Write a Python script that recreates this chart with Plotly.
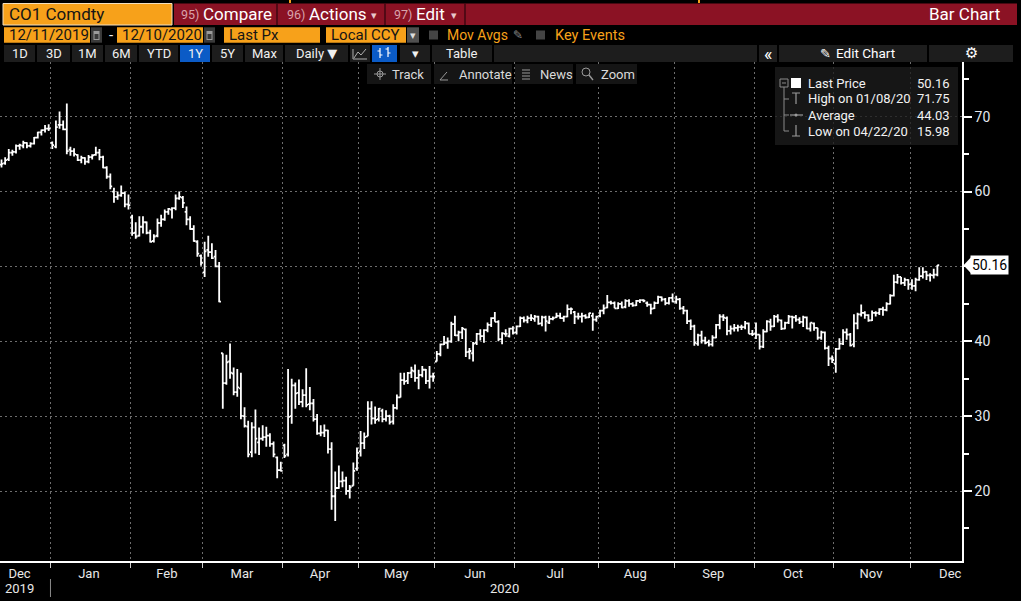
import pandas as pd
import plotly.graph_objects as go

# CO1 Comdty daily bars, 12/11/2019 - 12/10/2020
holidays = ["2019-12-25", "2020-01-01", "2020-04-10"]
days = pd.bdate_range("2019-12-11", "2020-12-10")
days = days[~days.isin(pd.to_datetime(holidays))]

opens = [
    63.6, 63.8, 64.3, 65.2, 65.3, 66.1, 66.1, 66.5, 66.1, 66.4, 67.2, 67.9, 68.2, 68.4,
    66.5, 66.0, 68.9, 68.9, 68.3, 65.6, 65.4, 64.9, 64.2, 64.5, 64.0, 64.6, 64.9, 65.2, 64.6, 63.2, 62.0, 60.0, 59.3, 59.5, 59.8, 58.3,
    56.6, 54.5, 54.1, 55.3, 55.9, 54.5, 53.4, 54.1, 55.8, 56.3, 57.3, 57.6, 57.8, 59.1, 59.2, 57.3, 56.3, 55.0, 53.3, 51.4,
    49.2, 52.2, 51.9, 51.3, 50.0, 38.4, 34.4, 37.3, 35.7, 33.2, 33.7, 30.0, 28.6, 25.2, 28.5, 26.5, 27.0, 27.2, 27.4, 26.3, 24.5, 22.8,
    26.1, 24.9, 30.0, 34.1, 33.1, 31.9, 32.8, 31.6, 31.7, 29.6, 27.7, 27.8, 28.1, 25.6, 19.3, 20.4, 21.3, 21.4, 20.0, 20.7, 23.0,
    25.3, 26.4, 27.3, 31.0, 29.7, 29.6, 30.7, 29.6, 30.0, 29.3, 31.1, 32.5, 34.8, 34.7, 35.8, 36.0, 35.1, 35.5, 36.2, 34.7, 35.3,
    37.3, 38.3, 39.6, 39.8, 40.0, 42.3, 40.8, 41.2, 41.6, 38.6, 38.4, 39.8, 41.0, 40.7, 41.5, 42.2, 43.1, 42.6, 40.3, 41.0, 40.7, 41.7,
    41.2, 42.0, 43.1, 42.8, 43.1, 43.0, 43.3, 42.4, 43.2, 42.5, 43.0, 43.2, 43.4, 43.1, 43.3, 44.3, 43.9, 43.3, 43.3, 43.4, 43.2, 43.4, 42.9,
    43.4, 44.1, 44.5, 45.2, 45.1, 44.4, 45.0, 44.6, 45.4, 45.0, 44.8, 45.4, 45.5, 45.1, 44.9, 44.4, 45.1, 45.9, 45.6, 45.1, 45.8,
    45.3, 45.6, 44.4, 44.1, 42.7, 42.0, 39.7, 40.8, 40.1, 39.9, 39.6, 40.5, 42.2, 43.3, 43.1, 41.4, 41.7, 41.8, 41.9, 41.9, 42.4, 41.0,
    41.0, 40.9, 39.3, 41.3, 42.6, 42.0, 43.3, 42.8, 41.7, 42.5, 43.3, 43.2, 42.9, 42.6, 43.2, 41.7, 42.4, 41.8, 40.5, 41.2, 39.1, 37.7,
    37.0, 39.0, 39.7, 41.2, 40.9, 39.6, 42.4, 43.6, 43.8, 43.5, 42.8, 43.8, 43.8, 44.3, 44.2, 45.0, 46.1, 47.9, 48.6, 47.8, 48.2,
    47.6, 47.4, 48.2, 48.7, 49.3, 48.8, 48.8, 48.9,
]
highs = [
    64.3, 64.6, 65.7, 65.6, 66.3, 66.4, 66.8, 66.6, 66.6, 67.3, 68.0, 68.3, 68.9, 69.0,
    66.7, 69.5, 70.7, 69.5, 71.75, 66.0, 65.8, 65.0, 64.8, 64.6, 64.9, 65.0, 66.0, 65.7, 64.8, 63.4, 62.4, 60.5, 60.0, 60.8, 60.0, 59.6,
    56.9, 55.9, 56.7, 56.7, 56.0, 54.9, 54.3, 56.4, 56.9, 57.6, 57.8, 57.9, 59.6, 60.0, 59.4, 58.0, 56.7, 55.5, 53.5, 51.6,
    53.3, 54.1, 53.1, 52.2, 50.6, 38.4, 38.2, 39.7, 36.5, 36.3, 35.8, 31.2, 29.4, 29.2, 30.9, 28.5, 28.8, 28.6, 27.7, 26.6, 24.6, 23.9,
    26.3, 36.3, 35.0, 34.5, 34.9, 33.6, 36.4, 33.9, 32.3, 30.3, 28.8, 28.9, 28.2, 26.5, 22.6, 23.4, 22.6, 21.9, 20.8, 23.8, 25.8,
    28.0, 27.8, 32.0, 32.0, 31.3, 31.1, 31.0, 30.8, 30.2, 31.6, 32.9, 35.8, 35.8, 35.9, 36.6, 36.9, 36.2, 36.7, 36.3, 36.7, 35.8,
    38.7, 39.7, 40.7, 40.5, 42.6, 43.4, 41.4, 41.9, 41.7, 39.1, 39.9, 41.1, 41.6, 41.6, 42.5, 43.2, 43.9, 42.8, 41.2, 41.6, 41.8, 42.0,
    42.1, 43.3, 43.3, 43.4, 43.6, 43.5, 43.4, 43.4, 43.4, 43.4, 43.3, 43.8, 43.8, 43.4, 44.9, 44.5, 44.05, 43.8, 43.8, 43.6, 43.8, 43.8, 43.4,
    44.2, 44.9, 46.2, 45.4, 45.3, 45.2, 45.3, 45.6, 45.6, 45.2, 45.5, 45.6, 45.6, 45.3, 45.0, 45.3, 46.1, 46.0, 45.8, 45.9, 46.4,
    46.1, 45.8, 44.7, 44.2, 42.9, 42.2, 41.0, 41.4, 40.6, 40.2, 40.8, 42.3, 43.6, 43.6, 43.3, 42.1, 42.3, 42.2, 42.2, 42.7, 42.5, 41.5,
    42.5, 40.9, 41.6, 42.8, 43.0, 43.5, 43.6, 42.9, 42.6, 43.5, 43.4, 43.5, 43.2, 43.4, 43.3, 42.5, 42.5, 41.8, 41.4, 41.3, 39.4, 38.1,
    39.1, 40.4, 41.6, 41.7, 41.1, 43.6, 43.8, 44.9, 44.0, 43.6, 44.1, 44.0, 44.4, 44.6, 45.2, 46.3, 48.9, 49.0, 48.6, 48.5, 48.3,
    48.3, 48.5, 49.9, 49.9, 49.4, 49.1, 49.7, 50.2,
]
lows = [
    63.2, 63.6, 64.1, 64.8, 65.1, 65.6, 65.8, 65.8, 65.9, 66.3, 67.1, 67.5, 67.9, 68.1,
    65.7, 65.8, 68.4, 68.2, 65.0, 64.8, 64.7, 64.1, 63.8, 63.6, 63.8, 64.3, 64.8, 64.2, 63.1, 61.7, 60.3, 58.5, 58.9, 59.3, 57.9, 57.6,
    54.1, 53.7, 54.0, 54.4, 54.3, 53.2, 53.2, 53.9, 55.3, 56.1, 56.9, 56.4, 57.5, 58.9, 57.8, 55.5, 54.9, 53.3, 51.3, 50.1,
    48.6, 51.3, 51.0, 49.9, 45.2, 31.0, 34.2, 35.0, 32.8, 32.6, 29.6, 28.5, 24.5, 24.5, 25.0, 24.8, 26.7, 25.9, 25.9, 24.5, 21.7, 22.6,
    24.4, 24.6, 29.0, 31.0, 31.5, 31.2, 31.2, 30.8, 29.3, 27.5, 27.3, 27.2, 25.0, 17.5, 15.98, 20.3, 20.5, 19.5, 19.0, 20.7, 22.7,
    24.6, 25.6, 27.3, 28.9, 29.0, 29.3, 29.2, 29.3, 28.9, 28.9, 30.9, 32.5, 34.2, 34.3, 35.1, 34.6, 33.6, 35.2, 34.3, 33.7, 34.6,
    37.3, 38.0, 39.5, 39.0, 39.8, 40.7, 40.0, 40.3, 37.9, 37.6, 37.3, 39.5, 40.1, 39.8, 41.2, 41.9, 42.6, 40.0, 39.6, 40.6, 40.5, 40.9,
    40.9, 41.9, 42.5, 42.4, 42.7, 42.6, 42.2, 42.0, 41.3, 42.3, 42.8, 43.1, 43.0, 42.6, 43.2, 43.6, 42.3, 42.9, 42.5, 43.0, 43.1, 41.4, 42.6,
    43.2, 43.6, 44.4, 44.9, 44.4, 44.3, 44.4, 44.4, 44.6, 44.6, 44.7, 45.1, 45.2, 44.6, 43.6, 44.3, 45.0, 45.3, 44.8, 44.9, 45.2,
    45.0, 44.2, 43.6, 42.3, 41.5, 39.4, 39.4, 39.7, 39.6, 39.3, 39.3, 40.4, 41.6, 42.7, 40.8, 40.9, 41.3, 41.3, 41.5, 41.6, 41.0, 40.7,
    40.3, 38.9, 39.1, 41.2, 41.4, 41.9, 42.5, 41.5, 41.6, 42.3, 41.7, 42.6, 42.3, 41.9, 41.6, 41.3, 41.4, 40.2, 40.2, 38.9, 36.7, 37.1,
    35.8, 38.9, 39.5, 40.2, 39.3, 39.2, 41.6, 43.3, 43.0, 42.6, 42.7, 43.3, 43.5, 43.4, 44.0, 44.9, 46.0, 47.7, 47.6, 47.4, 46.9,
    46.9, 46.7, 48.1, 48.4, 48.2, 48.0, 48.4, 48.7,
]
closes = [
    63.7, 64.2, 65.2, 65.3, 66.1, 66.2, 66.5, 66.1, 66.4, 67.2, 67.9, 68.2, 68.4, 68.4,
    66.2, 68.6, 68.9, 68.3, 65.4, 65.4, 65.0, 64.2, 64.5, 64.0, 64.6, 64.85, 65.2, 64.6, 63.2, 62.0, 60.7, 59.3, 59.5, 59.8, 58.3, 58.2,
    54.45, 54.0, 55.3, 55.9, 54.5, 53.3, 54.0, 55.8, 56.3, 57.3, 57.7, 57.8, 59.1, 59.3, 58.5, 56.3, 55.0, 53.4, 51.7, 50.5,
    52.0, 51.9, 51.1, 50.0, 45.3, 34.4, 37.2, 35.8, 33.2, 33.85, 30.05, 28.7, 24.9, 28.5, 27.0, 27.0, 27.2, 27.4, 26.3, 24.9, 22.8, 22.7,
    24.7, 29.9, 34.1, 33.05, 31.9, 32.8, 31.5, 31.7, 29.6, 27.7, 27.8, 28.1, 25.6, 19.3, 20.4, 21.3, 21.4, 20.0, 20.5, 22.7, 25.1,
    26.4, 27.2, 31.0, 29.7, 29.5, 31.0, 29.6, 30.0, 29.2, 31.1, 32.5, 34.8, 34.65, 35.75, 36.1, 35.1, 35.5, 36.2, 34.7, 35.3, 35.3,
    38.3, 39.6, 39.8, 40.0, 42.3, 40.8, 41.2, 41.7, 38.55, 38.7, 39.7, 41.0, 40.7, 41.5, 42.2, 43.1, 42.6, 40.3, 41.05, 41.0, 41.7, 41.15,
    42.0, 43.1, 42.8, 43.1, 43.1, 43.3, 42.35, 43.2, 42.7, 43.0, 43.1, 43.4, 43.1, 43.3, 44.3, 44.3, 43.3, 43.3, 43.4, 43.2, 43.75, 42.9, 43.3,
    44.1, 44.4, 45.2, 45.1, 44.4, 45.0, 44.5, 45.4, 45.0, 44.8, 45.4, 45.5, 45.4, 44.9, 44.35, 45.1, 45.9, 45.6, 45.1, 45.8, 45.3,
    45.6, 44.4, 44.1, 42.7, 42.0, 39.8, 40.8, 40.1, 39.8, 39.6, 40.5, 42.2, 43.3, 43.15, 41.4, 41.7, 41.8, 41.9, 41.9, 42.4, 41.0, 40.95,
    40.9, 39.3, 41.3, 42.65, 42.0, 43.3, 42.85, 41.7, 42.45, 43.3, 43.2, 42.9, 42.6, 43.2, 41.7, 42.5, 41.8, 40.5, 41.2, 39.1, 37.7, 37.5,
    38.97, 39.7, 41.2, 40.9, 39.45, 42.4, 43.6, 43.8, 43.5, 42.8, 43.8, 43.75, 44.3, 44.2, 45.0, 46.1, 47.9, 48.6, 47.8, 48.2, 47.6,
    47.4, 48.25, 48.7, 49.25, 48.8, 48.85, 48.9, 50.16,
]

month_ticks = ["2019-12-18 11:00", "2020-01-16 14:00", "2020-02-17 02:00", "2020-03-16 19:00",
               "2020-04-16 07:00", "2020-05-15 07:00", "2020-06-16 01:00", "2020-07-16 03:00",
               "2020-08-17 05:00", "2020-09-15 17:00", "2020-10-15 17:00", "2020-11-16 05:00",
               "2020-12-16 01:00"]
month_names = ["Dec", "Jan", "Feb", "Mar", "Apr", "May", "Jun", "Jul", "Aug", "Sep", "Oct", "Nov", "Dec"]

legend_rows = [("Last Price", "50.16"), ("High on 01/08/20", "71.75"),
               ("Average", "44.03"), ("Low on 04/22/20", "15.98")]

dates = days + pd.Timedelta(hours=12)  # centre each bar in its day slot
s = pd.Series(days)
month_starts = [d.strftime("%Y-%m-%d") for d in s[s.dt.month != s.shift().dt.month].iloc[1:]]

UI = "Roboto, DejaVu Sans, sans-serif"
ORANGE = "#f7a11a"
RED = "#8b1224"
BTN = "#1d1d1d"
GRID = "#6e6e6e"
YMIN, YMAX = 10.65, 77.31

# page pixels -> paper coords (plot area is x 0..962, y 62..561)
PX0, PX1, PY0, PY1 = 0, 962, 62, 561


def px(x):
    return (x - PX0) / (PX1 - PX0)


def py(y):
    return (PY1 - y) / (PY1 - PY0)


shapes, notes = [], []


def box(x0, y0, x1, y1, fill, line=None):
    shapes.append(dict(type="rect", xref="paper", yref="paper", layer="above",
                       x0=px(x0), x1=px(x1), y0=py(y1), y1=py(y0), fillcolor=fill,
                       line=dict(width=1 if line else 0, color=line or fill)))


def path(parts, color, width=1.2):
    d = " ".join("M " + " L ".join(f"{px(x):.5f},{py(y):.5f}" for x, y in pts) for pts in parts)
    shapes.append(dict(type="path", xref="paper", yref="paper", layer="above", path=d,
                       line=dict(color=color, width=width)))


def label(x, y, text, color="#eeeeee", size=13, anchor="left"):
    notes.append(dict(xref="paper", yref="paper", x=px(x), y=py(y), text=text, showarrow=False,
                      xanchor=anchor, yanchor="middle", font=dict(color=color, size=size, family=UI)))


# row 1: security + red menu bar
box(289, 0, 291, 3, ORANGE)
box(698, 0, 700, 3, ORANGE)
box(3, 3.5, 172, 25, ORANGE, line="#f3dfbf")
label(7, 14.5, "CO1 Comdty", "#151515", 17)
box(174, 3.5, 1017, 25, RED)
for xs in (277, 385, 465):
    box(xs - 0.7, 3.5, xs + 0.7, 25, "#3a0610")
for x, num, word, arrow in [(179, "95)", "Compare", None), (285, "96)", "Actions", 374),
                            (392, "97)", "Edit", 454)]:
    label(x, 14.5, num, "#d9a3ab", 12.5)
    label(x + 22, 14.5, word, "white", 17)
    if arrow:
        label(arrow, 15, "▾", "#e8c8cc", 11, "center")
label(1002, 14.5, "Bar Chart", "white", 17, "right")

# row 2: dates, field, currency, check boxes
for x0, x1, txt in [(4, 90, "12/11/2019"), (117, 203, "12/10/2020"), (224, 320, "Last Px"),
                    (326, 406, "Local CCY")]:
    box(x0, 27.3, x1, 42.7, ORANGE)
    label(x0 + 3, 35, txt, "#151515", 15)
for x0 in (91, 204):
    box(x0, 27.3, x0 + 11, 42.7, "#3a3a3a")
    box(x0 + 2.5, 31, x0 + 8.5, 40, "#9a9a9a")
    box(x0 + 3.5, 34, x0 + 7.5, 39, "#3a3a3a")
label(111, 35, "-", "#eeeeee", 15, "center")
box(407, 27.3, 419, 42.7, "#505050")
label(413, 36, "▾", "#dddddd", 11, "center")
box(429, 30.5, 438, 39.5, "#444444")
label(445, 35, "Mov Avgs", ORANGE, 14)
label(518, 35, "✎", "#8a8a8a", 12, "center")
box(536, 30.5, 545, 39.5, "#444444")
label(553, 35, "Key Events", ORANGE, 14.5)

# row 3: period buttons and chart tools
for x0, x1, txt, on in [(4, 35, "1D", 0), (37, 70, "3D", 0), (72, 103, "1M", 0), (105, 137, "6M", 0),
                        (139, 178, "YTD", 0), (180, 210, "1Y", 1), (212, 243, "5Y", 0),
                        (245, 283, "Max", 0), (285, 348, "Daily ▼", 0), (350, 370, "", 0),
                        (372, 397, "", 1), (400, 430, "▾", 0), (432, 492, "Table", 0)]:
    box(x0, 45, x1, 62, "#0b5bc6" if on else BTN)
    if txt:
        label((x0 + x1) / 2, 53.5, txt, "#f0f0f0", 13, "center")
path([[(354, 58), (358, 52), (361, 55), (366, 49)], [(353, 49), (353, 59), (367, 59)]], "#b0b0b0", 1)
path([[(380, 48), (380, 58)], [(377.5, 51), (380, 51)], [(380, 55), (382.5, 55)],
      [(388, 47), (388, 57)], [(385.5, 49), (388, 49)], [(388, 53), (390.5, 53)]], "white", 1.2)
box(494, 45, 757, 62, BTN)
box(759, 45, 777, 62, BTN)
label(768, 53, "«", "white", 18, "center")
box(779, 45, 927, 62, BTN)
label(825, 53.5, "✎", "white", 13, "center")
label(834, 53.5, "Edit Chart", "white", 13.5)
box(929, 45, 1013, 62, BTN)
label(971, 53, "⚙", "white", 15, "center")

# row 4: overlay buttons inside the chart
for x0, x1, txt in [(367, 431, "Track"), (434, 512, "Annotate"), (515, 573, "News"), (576, 637, "Zoom")]:
    box(x0, 64, x1, 84, "#151515")
    label(x0 + 23, 74, txt, "#dadada", 13)
path([[(374, 74), (386, 74)], [(380, 68), (380, 80)]], "#9a9a9a", 1)
shapes.append(dict(type="circle", xref="paper", yref="paper", layer="above",
                   x0=px(377), x1=px(383), y0=py(77), y1=py(71), line=dict(color="#9a9a9a", width=1)))
path([[(440, 80), (447, 72)], [(440, 80), (448, 80)]], "#9a9a9a", 1)
path([[(522, 70), (530, 70)], [(522, 73), (530, 73)], [(522, 76), (530, 76)], [(522, 79), (530, 79)]],
     "#9a9a9a", 1)
shapes.append(dict(type="circle", xref="paper", yref="paper", layer="above",
                   x0=px(582), x1=px(590), y0=py(76), y1=py(68), line=dict(color="#9a9a9a", width=1)))
path([[(589, 75), (593, 80)]], "#9a9a9a", 1.4)

# legend box (top right)
box(775, 67, 958, 145, "rgba(28,28,28,0.78)")
box(780, 79, 788, 87, "rgba(0,0,0,0)", line="#8a8a8a")
path([[(782, 83), (786, 83)], [(784, 87), (784, 131)], [(784, 99), (789, 99)],
      [(784, 115), (789, 115)], [(784, 131), (789, 131)]], "#8a8a8a", 1)
box(791, 78, 801, 88, "white")
path([[(792, 93), (800, 93)], [(796, 93), (796, 104)]], "#9a9a9a", 1.2)
path([[(790, 115), (803, 115)]], "#9a9a9a", 1.2)
shapes.append(dict(type="circle", xref="paper", yref="paper", layer="above", fillcolor="#9a9a9a",
                   x0=px(794.5), x1=px(797.5), y0=py(116.5), y1=py(113.5), line=dict(width=0)))
path([[(796, 125), (796, 136)], [(792, 136), (800, 136)]], "#9a9a9a", 1.2)
for k, (name, val) in enumerate(legend_rows):
    yy = 83 + 16 * k
    label(806, yy, name, "#f2f2f2", 13)
    label(952, yy, val, "#f2f2f2", 13, "right")

# last price tag on the price axis
last = closes[-1]
shapes.append(dict(type="path", xref="paper", yref="y", layer="above", fillcolor="white",
                   line=dict(width=0),
                   path=f"M {px(963.5)},{last} L {px(971)},{last + 1.07} L {px(971)},{last - 1.07} Z"))
notes.append(dict(xref="paper", yref="y", x=px(970), y=last, text=f"{last:.2f}", showarrow=False,
                  xanchor="left", yanchor="middle", bgcolor="white", borderpad=1,
                  font=dict(color="black", size=14, family=UI)))

# year row under the month labels
shapes.append(dict(type="line", xref="x", yref="paper", x0=month_starts[0], x1=month_starts[0],
                   y0=py(579), y1=py(597), line=dict(color="#8a8a8a", width=1)))
for xd, yr in [(month_ticks[0], "2019"), ("2020-06-26 07:00", "2020")]:
    notes.append(dict(xref="x", yref="paper", x=xd, y=py(588), text=yr, showarrow=False,
                      xanchor="center", yanchor="middle",
                      font=dict(color="#e8e8e8", size=13, family=UI)))

fig = go.Figure(go.Ohlc(
    x=dates, open=opens, high=highs, low=lows, close=closes,
    increasing=dict(line=dict(color="white", width=1.8)),
    decreasing=dict(line=dict(color="white", width=1.8)),
    tickwidth=0.5, hoverinfo="skip", showlegend=False,
))

fig.update_layout(
    width=1021, height=601,
    margin=dict(l=PX0, r=1021 - PX1, t=PY0, b=601 - PY1),
    paper_bgcolor="black", plot_bgcolor="black",
    font=dict(family=UI, color="#e8e8e8", size=13),
    showlegend=False, shapes=shapes, annotations=notes,
    xaxis=dict(
        type="date", range=["2019-12-11 02:00", "2020-12-21 07:00"],
        rangebreaks=[dict(bounds=["sat", "mon"]), dict(values=holidays)],
        rangeslider=dict(visible=False),
        tickmode="array", tickvals=month_ticks, ticktext=month_names,
        ticks="", tickfont=dict(size=13, color="#e8e8e8"),
        showgrid=False, zeroline=False,
        showline=True, linecolor="white", linewidth=1.5,
        minor=dict(tickmode="array", tickvals=month_starts, ticks="outside", ticklen=5,
                   tickcolor="#cfcfcf", showgrid=True, gridcolor=GRID, griddash="2px,3px", gridwidth=1),
    ),
    yaxis=dict(
        side="right", range=[YMIN, YMAX],
        tickmode="array", tickvals=[20, 30, 40, 50, 60, 70],
        ticktext=["20", "30", "40", "", "60", "70"],
        ticks="outside", ticklen=8, tickwidth=1.5, tickcolor="white",
        tickfont=dict(size=14, color="#e4e8ee"),
        showgrid=True, gridcolor=GRID, griddash="2px,3px", gridwidth=1, zeroline=False,
        showline=True, linecolor="white", linewidth=1.5,
        minor=dict(tickmode="linear", tick0=0, dtick=5, ticks="outside", ticklen=5,
                   tickcolor="white", showgrid=False),
    ),
)

fig.write_html("out.html", config={"displayModeBar": False},
               post_script="document.body.style.margin='0';document.body.style.overflow='hidden';")
